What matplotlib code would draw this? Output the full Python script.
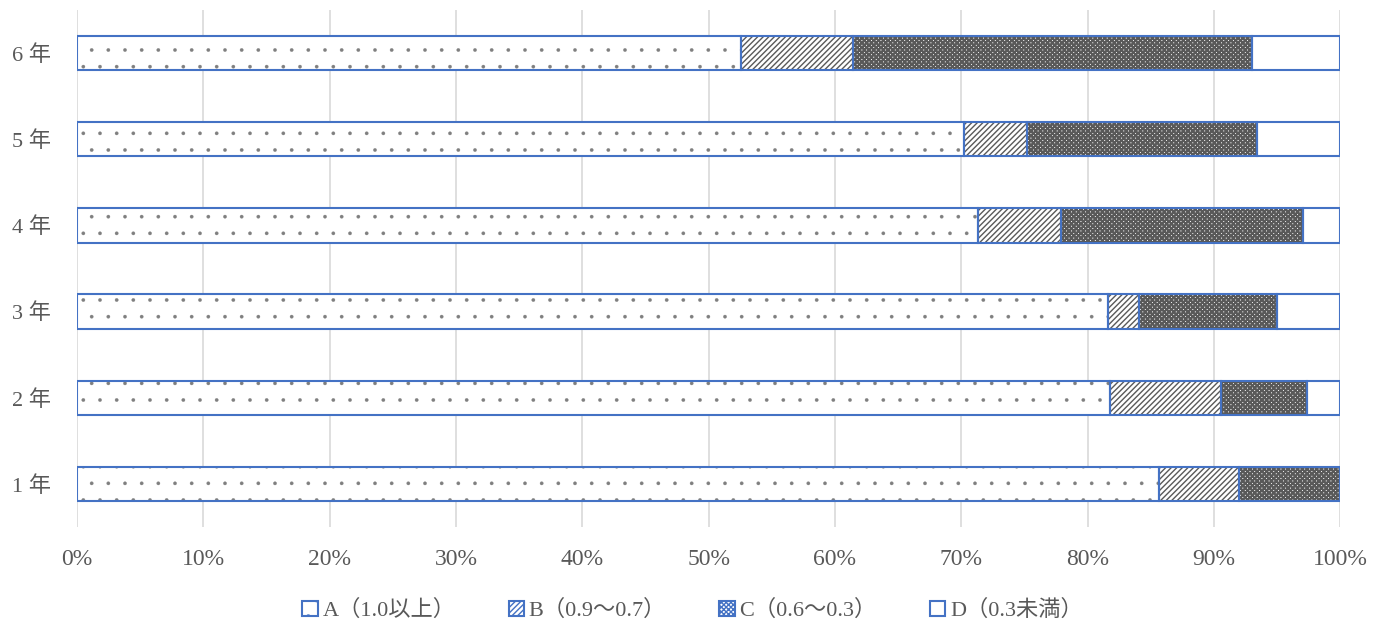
import numpy as np
import matplotlib as mpl
import matplotlib.pyplot as plt
from matplotlib.patches import Patch

plt.rcParams['font.family'] = ['Liberation Serif', 'Noto Sans CJK JP']

grades = ['1 年', '2 年', '3 年', '4 年', '5 年', '6 年']
a_vals = [85.7, 81.8, 81.6, 71.3, 70.2, 52.6]  # A (1.0以上)
b_vals = [6.3, 8.8, 2.5, 6.6, 5.0, 8.8]  # B (0.9~0.7)
c_vals = [8.0, 6.8, 10.9, 19.2, 18.2, 31.6]  # C (0.6~0.3)
d_vals = [0.0, 2.6, 5.0, 2.9, 6.6, 7.0]  # D (0.3未満)
labels = ['A（1.0以上）', 'B（0.9～0.7）', 'C（0.6～0.3）', 'D（0.3未満）']
hatches = ['.', '//////', 'xxxxxxx', '']
hatch_lw = [0.2, 1.0, 1.6, 1.0]
hatch_col = ['#7f7f7f', '#595959', '#595959', '#595959']

blue = '#4472C4'
gray = '#595959'

fig = plt.figure(figsize=(13.85, 6.23), dpi=100)
ax = fig.add_axes([0.0556, 0.154, 0.912, 0.830])

y = np.arange(len(grades))
series = [a_vals, b_vals, c_vals, d_vals]
left = np.zeros(len(grades))
for vals, h, lw, hc in zip(series, hatches, hatch_lw, hatch_col):
    vals = np.array(vals)
    # hatch layer in gray, then blue outline on top
    with mpl.rc_context({'hatch.linewidth': lw}):
        ax.barh(y, vals, left=left, height=0.4, color='white', edgecolor=hc,
                hatch=h, linewidth=0, zorder=2)
    ax.barh(y, vals, left=left, height=0.4, color='none', edgecolor=blue,
            linewidth=1.5, zorder=3)
    left += vals

ax.set_xlim(0, 100)
ax.set_ylim(-0.5, len(grades) - 0.5)
ax.set_xticks(np.arange(0, 101, 10))
ax.set_xticklabels([f'{v}%' for v in range(0, 101, 10)], fontsize=17, color=gray)
ax.set_yticks(y)
ax.set_yticklabels(grades, fontsize=16, color=gray)
ax.tick_params(axis='x', length=0, pad=16)
ax.tick_params(axis='y', length=0, pad=19)
ax.grid(axis='x', color='#d9d9d9', linewidth=1.2, zorder=0)
ax.set_axisbelow(True)
for s in ax.spines.values():
    s.set_visible(False)

handles = []
for h, lw in zip(hatches, hatch_lw):
    with mpl.rc_context({'hatch.linewidth': lw}):
        handles.append(Patch(facecolor='white', edgecolor=blue, hatch=h, linewidth=1.5))
fig.legend(handles, labels, loc='center', bbox_to_anchor=(0.5, 0.02), ncol=4,
           frameon=False, fontsize=16, handlelength=0.7, handleheight=0.7,
           handletextpad=0.2, columnspacing=2.4, labelcolor=gray)

fig.savefig('out.png', dpi=100)
